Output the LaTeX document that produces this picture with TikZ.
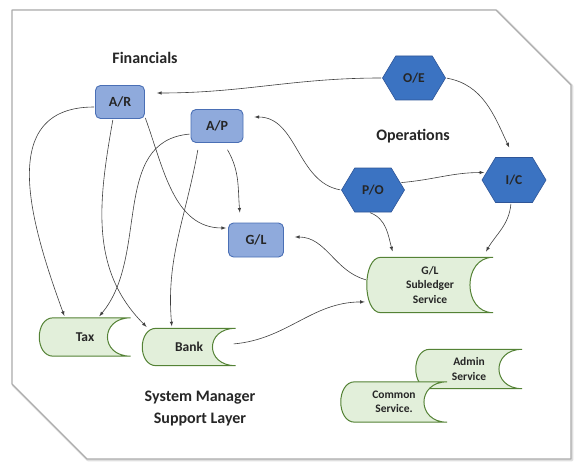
\documentclass[tikz,border=0pt]{standalone}
\usepackage{fontspec}
\setmainfont{Carlito}
\usetikzlibrary{shapes.symbols,calc}

\definecolor{boxfill}{HTML}{8FAADC}
\definecolor{boxline}{HTML}{4A6FB5}
\definecolor{hexfill}{HTML}{3B73C2}
\definecolor{hexline}{HTML}{2F5597}
\definecolor{storefill}{HTML}{E2EFDA}
\definecolor{storeline}{HTML}{548235}
\definecolor{ink}{HTML}{262626}

\pgfdeclarelayer{background}
\pgfsetlayers{background,main}

\tikzstyle{fin} = [rectangle, rounded corners=5pt, draw=boxline, fill=boxfill,
	line width=0.9pt, font=\bfseries\fontsize{14}{16}\selectfont, text=ink]
\tikzstyle{ops} = [signal, signal to=east and west, signal pointer angle=118,
	draw=hexline, fill=hexfill, line width=0.6pt, minimum width=63pt,
	minimum height=44pt, inner sep=0pt, font=\bfseries\fontsize{13.5}{16}\selectfont, text=ink]
\tikzstyle{store} = [rectangle, inner sep=0pt, align=center, text=ink,
	font=\bfseries\fontsize{11.5}{14.5}\selectfont]
\tikzstyle{storeline} = [draw=storeline, fill=storefill, line width=1pt]
\tikzstyle{heading} = [align=center, text=ink, font=\bfseries\fontsize{16}{22}\selectfont]
\tikzstyle{flow} = [black!75, line width=0.6pt, shorten >=2pt, shorten <=1pt]

\begin{document}
\begin{tikzpicture}[x=1pt, y=1pt, >=latex]
	\useasboundingbox (0,0) rectangle (583,472);

	% headings
	\node [heading] (FIN) at (145,414) {Financials};
	\node [heading] (OPS) at (413,336) {Operations};
	\node [heading] (SML) at (200,63) {System Manager\\Support Layer};

	% financial modules
	\node [fin, minimum width=49pt, minimum height=33pt] (ar) at (120,370) {A/R};
	\node [fin, minimum width=52pt, minimum height=33pt] (ap) at (217,346) {A/P};
	\node [fin, minimum width=55pt, minimum height=34pt] (gl) at (256,232) {G/L};

	% operations modules
	\node [ops] (oe) at (414,394) {O/E};
	\node [ops] (po) at (373,282) {P/O};
	\node [ops, minimum width=64pt, minimum height=45pt] (ic) at (514,292) {I/C};

	% support services
	\node [store, minimum width=91pt, minimum height=38pt, font=\bfseries\fontsize{13.5}{16}\selectfont] (tax) at (85,135) {Tax};
	\node [store, minimum width=93pt, minimum height=37pt, font=\bfseries\fontsize{13.5}{16}\selectfont] (bank) at (189,125) {Bank};
	\node [store, minimum width=126pt, minimum height=55pt] (gls) at (430,187) {G/L\\Subledger\\Service};
	\node [store, minimum width=106pt, minimum height=39pt] (admin) at (469,103) {Admin\\Service};
	\node [store, minimum width=106pt, minimum height=40pt] (common) at (394,70) {Common\\Service.};

	\begin{pgfonlayer}{background}
		% frame
		\draw [gray!25, line width=2.5pt, line join=round, xshift=1pt, yshift=-1pt]
			(12,462) -- (496,462) -- (571,387) -- (571,13) -- (87,13) -- (12,88) -- cycle;
		\draw [gray!65, fill=white, line width=1.2pt, line join=round]
			(12,462) -- (496,462) -- (571,387) -- (571,13) -- (87,13) -- (12,88) -- cycle;
		% stored data outlines
		\foreach \n in {tax,bank,gls,admin,common}
			\draw [storeline] ($(\n.north west)+(14,0)$) -- (\n.north east)
				.. controls +(-31,0) and +(-31,0) .. (\n.south east)
				-- ($(\n.south west)+(14,0)$)
				.. controls ($(\n.south west)+(-4.7,0)$) and ($(\n.north west)+(-4.7,0)$) .. cycle;
	\end{pgfonlayer}

	\path[->, flow]
	(oe.west) edge [out=180, in=0] ([xshift=10pt, yshift=9pt]ar.east)
	(oe.east) edge [out=-10, in=115] ([xshift=-4pt, yshift=8pt]ic.north)
	(po.15) edge [out=5, in=180] (ic.165)
	(po.west) edge [out=170, in=0] ([xshift=9pt, yshift=9pt]ap.east)
	([xshift=-4pt]po.south) edge [out=-20, in=105] ([xshift=-37pt, yshift=4pt]gls.north)
	([xshift=-3pt]ic.south) edge [out=-95, in=60] ([xshift=55pt, yshift=4pt]gls.north)
	([yshift=5pt]gls.west) edge [out=165, in=0] ([xshift=9pt, yshift=3pt]gl.east)
	([xshift=-3pt, yshift=3pt]bank.east) edge [out=5, in=180] (gls.195);

	\path[->, flow]
	([yshift=-5pt]ar.west) edge [out=180, in=110, looseness=1.2] ([xshift=-20pt]tax.north)
	([xshift=-7pt]ar.south) edge [out=-100, in=135] ([xshift=-41pt]bank.north)
	([yshift=2pt]ar.south east) edge [out=-70, in=180] ([yshift=12pt]gl.west)
	([yshift=-8pt]ap.west) edge [out=185, in=50] ([xshift=13pt]tax.north)
	([xshift=-19pt, yshift=-6pt]ap.south) edge [out=-100, in=95] ([xshift=-17pt]bank.north)
	([xshift=10pt, yshift=-6pt]ap.south) edge [out=-60, in=95] ([xshift=-16pt, yshift=8pt]gl.north);
\end{tikzpicture}
\end{document}
